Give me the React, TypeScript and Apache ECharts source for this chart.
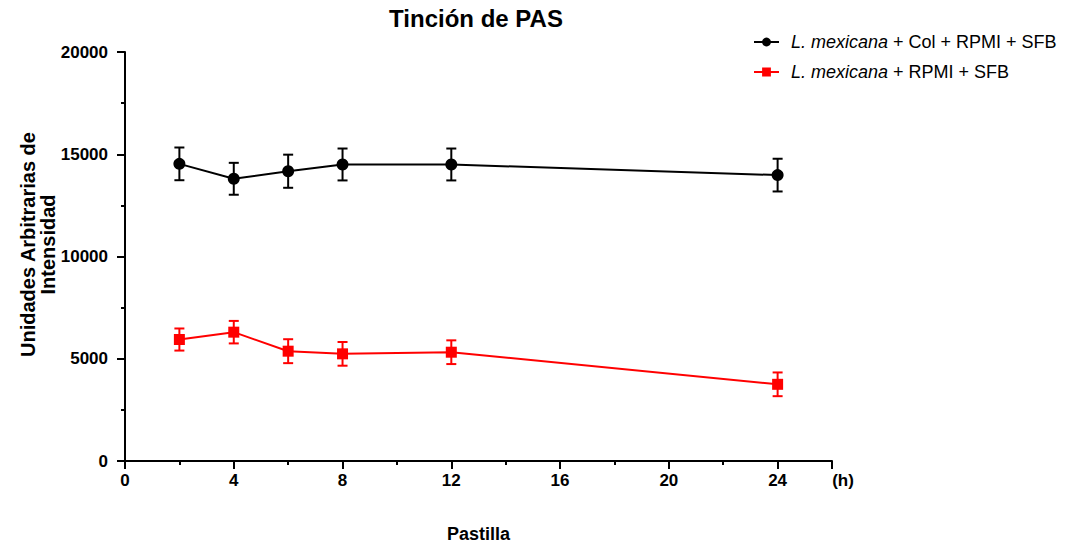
import React, { useEffect, useRef } from "react";
import * as echarts from "echarts";

const hours = [2, 4, 6, 8, 12, 24];
const colName = "L. mexicana + Col + RPMI + SFB";
const rpmiName = "L. mexicana + RPMI + SFB";
const colMean = [14530, 13800, 14170, 14500, 14500, 13980];
const colErr = [800, 780, 810, 780, 780, 800];
const rpmiMean = [5940, 6300, 5370, 5240, 5320, 3750];
const rpmiErr = [540, 550, 585, 580, 580, 580];
const xTickLabels = ["0", "4", "8", "12", "16", "20", "24"];
const xUnit = "(h)";

const FONT = "'Liberation Sans', Arial, sans-serif";

function errorSeries(name: string, mean: number[], err: number[], color: string) {
  return {
    type: "custom",
    name,
    xAxisIndex: 0,
    yAxisIndex: 0,
    z: 1,
    silent: true,
    data: hours.map((h, i) => [h, mean[i] - err[i], mean[i] + err[i]]),
    renderItem: (params: any, api: any) => {
      const x = api.value(0);
      const lo = api.coord([x, api.value(1)]);
      const hi = api.coord([x, api.value(2)]);
      const hw = 5;
      const style = { stroke: color, lineWidth: 2 };
      return {
        type: "group",
        children: [
          { type: "line", shape: { x1: hi[0], y1: hi[1], x2: lo[0], y2: lo[1] }, style },
          { type: "line", shape: { x1: hi[0] - hw, y1: hi[1], x2: hi[0] + hw, y2: hi[1] }, style },
          { type: "line", shape: { x1: lo[0] - hw, y1: lo[1], x2: lo[0] + hw, y2: lo[1] }, style },
        ],
      };
    },
  };
}

export default function App() {
  const ref = useRef<HTMLDivElement>(null);
  useEffect(() => {
    document.body.style.margin = "0";
    if (!ref.current) return;
    const chart = echarts.init(ref.current, undefined, { renderer: "svg" });
    const axisLabelStyle = { color: "#000", fontWeight: "bold", fontSize: 17, fontFamily: FONT };
    chart.setOption({
      animation: false,
      backgroundColor: "#fff",
      textStyle: { fontFamily: FONT },
      title: {
        text: "Tinción de PAS",
        left: 476,
        top: 6,
        padding: 0,
        textAlign: "center",
        textStyle: { fontSize: 24, fontWeight: "bold", color: "#000", fontFamily: FONT },
      },
      legend: {
        data: [colName, rpmiName],
        orient: "vertical",
        left: 753,
        top: 33,
        padding: 0,
        itemGap: 12,
        itemWidth: 25,
        itemHeight: 11,
        formatter: (name: string) => `{it|L. mexicana}{rg|${name.replace("L. mexicana", "")}}`,
        textStyle: {
          color: "#000",
          fontSize: 18,
          fontFamily: FONT,
          rich: {
            it: { fontStyle: "italic", fontSize: 18, fontFamily: FONT, color: "#000", padding: [0, 0, 0, 7] },
            rg: { fontSize: 18, fontFamily: FONT, color: "#000" },
          },
        },
      },
      grid: { left: 125, right: 234, top: 52, bottom: 85 },
      xAxis: [
        {
          type: "value",
          min: 0,
          max: 26,
          interval: 2,
          position: "bottom",
          axisLine: { show: true, lineStyle: { color: "#000", width: 2 } },
          axisTick: { show: true, length: 4, lineStyle: { color: "#000", width: 2 } },
          axisLabel: { show: false },
          splitLine: { show: false },
        },
        {
          type: "value",
          min: 0,
          max: 26,
          interval: 4,
          position: "bottom",
          name: "Pastilla",
          nameLocation: "middle",
          nameGap: 64,
          nameMoveOverlap: false,
          nameTextStyle: { color: "#000", fontWeight: "bold", fontSize: 18, fontFamily: FONT },
          axisLine: { show: false },
          axisTick: { show: true, length: 8, lineStyle: { color: "#000", width: 2 } },
          axisLabel: {
            ...axisLabelStyle,
            margin: 11,
            showMaxLabel: true,
            showMinLabel: true,
            hideOverlap: false,
            formatter: (v: number) => {
              const s = String(v);
              if (xTickLabels.includes(s)) return s;
              return `{u|${xUnit}}`;
            },
            rich: { u: { ...axisLabelStyle, padding: [0, 0, 0, 22] } },
          },
          splitLine: { show: false },
        },
      ],
      yAxis: {
        type: "value",
        min: 0,
        max: 20000,
        interval: 5000,
        name: "Unidades Arbitrarias de\nIntensidad",
        nameLocation: "middle",
        nameGap: 67,
        nameMoveOverlap: false,
        nameTextStyle: {
          color: "#000",
          fontWeight: "bold",
          fontSize: 20,
          lineHeight: 20,
          fontFamily: FONT,
          padding: [0, 0, 0, 24],
        },
        axisLine: { show: true, lineStyle: { color: "#000", width: 2 } },
        axisTick: { show: true, length: 8, lineStyle: { color: "#000", width: 2 } },
        minorTick: { show: true, splitNumber: 2, length: 4, lineStyle: { color: "#000", width: 2 } },
        axisLabel: { ...axisLabelStyle, margin: 17, formatter: (v: number) => String(v) },
        splitLine: { show: false },
      },
      series: [
        errorSeries("err-col", colMean, colErr, "#000"),
        errorSeries("err-rpmi", rpmiMean, rpmiErr, "#ff0000"),
        {
          type: "line",
          name: colName,
          z: 3,
          data: hours.map((h, i) => [h, colMean[i]]),
          symbol: "circle",
          symbolSize: 12,
          itemStyle: { color: "#000" },
          lineStyle: { color: "#000", width: 2 },
        },
        {
          type: "line",
          name: rpmiName,
          z: 3,
          data: hours.map((h, i) => [h, rpmiMean[i]]),
          symbol: "rect",
          symbolSize: 11,
          itemStyle: { color: "#ff0000" },
          lineStyle: { color: "#ff0000", width: 2 },
        },
      ],
    });
    return () => chart.dispose();
  }, []);
  return <div ref={ref} style={{ width: 1066, height: 548 }} />;
}
